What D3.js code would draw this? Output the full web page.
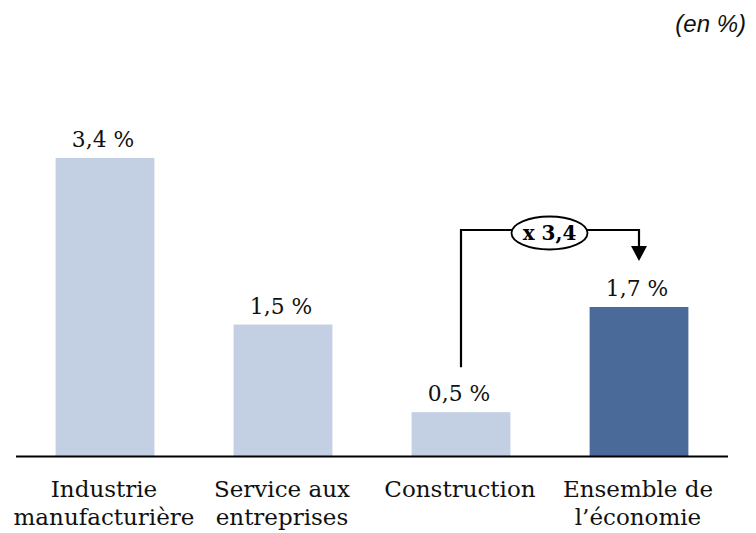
<!DOCTYPE html>
<html>
<head>
<meta charset="utf-8">
<script src="https://cdn.jsdelivr.net/npm/d3@7"></script>
<style>
  html, body { margin: 0; padding: 0; background: #fff; }
  svg { display: block; }
</style>
</head>
<body>
<svg id="chart" width="756" height="533"></svg>
<script>
// Croissance annuelle par secteur (en %)
const categories = [
  ["Industrie", "manufacturière"],
  ["Service aux", "entreprises"],
  ["Construction"],
  ["Ensemble de", "l\u2019économie"]
];
const values = [3.4, 1.5, 0.5, 1.7];
const valueLabels = ["3,4 %", "1,5 %", "0,5 %", "1,7 %"];
const highlight = [false, false, false, true];
const ratioLabel = "x 3,4";
const unitLabel = "(en %)";

const svg = d3.select("#chart");
const serif = "'DejaVu Serif', 'Liberation Serif', serif";

const x = d3.scaleBand()
  .domain(d3.range(values.length))
  .range([16, 728])
  .paddingInner(0.445)
  .paddingOuter(0.2225);

const y = d3.scaleLinear()
  .domain([0, 3.4])
  .range([456, 158]);

// Unit note, top right
svg.append("text")
  .attr("x", 746).attr("y", 32)
  .attr("text-anchor", "end")
  .attr("font-family", "'Liberation Sans', Arial, sans-serif")
  .attr("font-style", "italic")
  .attr("font-size", 24)
  .attr("fill", "#111")
  .text(unitLabel);

// Bars
svg.selectAll("rect.bar")
  .data(values)
  .join("rect")
  .attr("class", "bar")
  .attr("x", (d, i) => x(i))
  .attr("y", d => y(d))
  .attr("width", x.bandwidth())
  .attr("height", d => y(0) - y(d))
  .attr("fill", (d, i) => highlight[i] ? "#4a6a9a" : "#c3cfe2");

// Value labels above bars
svg.selectAll("text.val")
  .data(values)
  .join("text")
  .attr("class", "val")
  .attr("x", (d, i) => x(i) + x.bandwidth() / 2 - 2)
  .attr("y", d => y(d) - 11)
  .attr("text-anchor", "middle")
  .attr("font-family", serif)
  .attr("font-size", 21.8)
  .attr("fill", "#111")
  .text((d, i) => valueLabels[i]);

// Baseline
svg.append("line")
  .attr("x1", 16).attr("x2", 728)
  .attr("y1", y(0) + 0.5).attr("y2", y(0) + 0.5)
  .attr("stroke", "#000")
  .attr("stroke-width", 2.2);

// Category labels
const cat = svg.selectAll("text.cat")
  .data(categories)
  .join("text")
  .attr("class", "cat")
  .attr("text-anchor", "middle")
  .attr("font-family", serif)
  .attr("font-size", 23)
  .attr("fill", "#111");
cat.selectAll("tspan")
  .data((d, i) => d.map(t => ({ t, i })))
  .join("tspan")
  .attr("x", d => x(d.i) + x.bandwidth() / 2 - 1)
  .attr("y", (d, j) => 497 + j * 28)
  .text(d => d.t);

// Ratio connector from Construction to Ensemble de l'économie
const cFrom = x(2) + x.bandwidth() / 2;
const cTo = x(3) + x.bandwidth() / 2;
const yTop = 230;
const fromBottom = y(values[2]) - 45;
const arrowTip = y(values[3]) - 46;

svg.append("path")
  .attr("d", `M${cFrom},${fromBottom} V${yTop} H${cTo} V${arrowTip - 14}`)
  .attr("fill", "none")
  .attr("stroke", "#000")
  .attr("stroke-width", 2.2);

svg.append("path")
  .attr("d", `M${cTo - 8},${arrowTip - 15} L${cTo + 8},${arrowTip - 15} L${cTo},${arrowTip} Z`)
  .attr("fill", "#000");

const ex = (cFrom + cTo) / 2 - 0.5;
svg.append("ellipse")
  .attr("cx", ex).attr("cy", yTop + 3)
  .attr("rx", 38).attr("ry", 16.5)
  .attr("fill", "#fff")
  .attr("stroke", "#000")
  .attr("stroke-width", 1.8);

svg.append("text")
  .attr("x", ex).attr("y", yTop + 10)
  .attr("text-anchor", "middle")
  .attr("font-family", serif)
  .attr("font-weight", "bold")
  .attr("font-size", 20)
  .attr("fill", "#000")
  .text(ratioLabel);
</script>
</body>
</html>
